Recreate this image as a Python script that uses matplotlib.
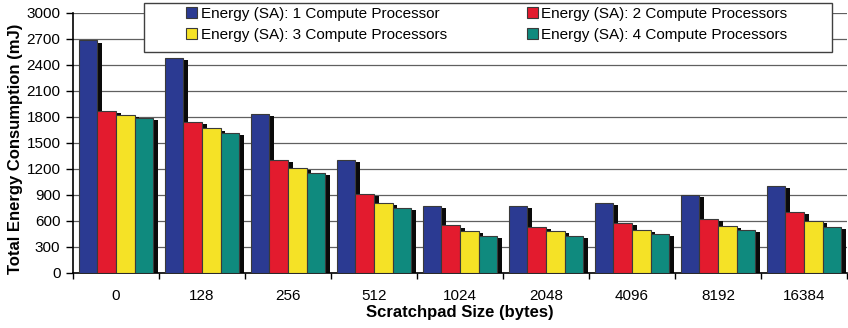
import matplotlib
matplotlib.use("Agg")
import matplotlib.pyplot as plt
import matplotlib.transforms as mtransforms
from matplotlib.patches import Rectangle
import numpy as np

plt.rcParams['font.family'] = ['Liberation Sans', 'DejaVu Sans']

# Scratchpad sizes (bytes) and total energy (mJ) per number of compute processors
sizes = ["0", "128", "256", "512", "1024", "2048", "4096", "8192", "16384"]
energy_1 = [2680, 2475, 1835, 1305, 775, 775, 810, 895, 1005]
energy_2 = [1870, 1735, 1300, 905, 545, 530, 570, 620, 705]
energy_3 = [1820, 1665, 1205, 800, 478, 478, 490, 535, 600]
energy_4 = [1790, 1615, 1147, 750, 423, 423, 450, 490, 532]
series_labels = [
    "Energy (SA): 1 Compute Processor",
    "Energy (SA): 2 Compute Processors",
    "Energy (SA): 3 Compute Processors",
    "Energy (SA): 4 Compute Processors",
]
colors = ["#2b3a92", "#e31b2e", "#f5e226", "#0f8a7e"]
y_ticks = list(range(0, 3001, 300))

fig = plt.figure(figsize=(8.48, 3.28), dpi=100)
ax = fig.add_axes([0.086, 0.1686, 0.913, 0.7925])

x = np.arange(len(sizes))
width = 0.217
offsets = (np.arange(4) - 1.5) * width
shadow_tr = mtransforms.offset_copy(ax.transData, fig=fig, x=3.3, y=-1.5, units='points')

handles = []
for vals, off, col, lab in zip([energy_1, energy_2, energy_3, energy_4], offsets, colors, series_labels):
    ax.bar(x + off, vals, width, color='#0a0a0a', edgecolor='none',
           transform=shadow_tr, zorder=2)
    b = ax.bar(x + off, vals, width, color=col, edgecolor='#3a3a3a',
               linewidth=0.8, zorder=3, label=lab)
    handles.append(b)

ax.set_xlim(-0.5, len(sizes) - 0.5)
ax.set_ylim(0, 3000)
ax.set_yticks(y_ticks)
ax.tick_params(axis='y', labelsize=11, length=5, width=1, pad=4, direction='out')

ax.set_xticks(x)
ax.set_xticklabels(sizes)
ax.set_xticks(np.arange(-0.5, len(sizes)), minor=True)
ax.tick_params(axis='x', which='major', length=0, labelsize=11, pad=12)
ax.tick_params(axis='x', which='minor', length=4, width=1, direction='out')

ax.yaxis.grid(True, color='#606060', linewidth=0.9, zorder=0)
ax.set_axisbelow(True)
for s in ['top', 'right']:
    ax.spines[s].set_visible(False)
ax.spines['left'].set_linewidth(1.2)
ax.spines['bottom'].set_linewidth(1.2)

ax.set_xlabel("Scratchpad Size (bytes)", fontsize=12, fontweight='bold', labelpad=1)
ax.set_ylabel("Total Energy Consumption (mJ)", fontsize=12, fontweight='bold', labelpad=4)
ax.yaxis.set_label_coords(-0.065, 0.478)

# Legend frame and entries
frame = Rectangle((144 / 848, 1 - 52 / 328), (832 - 144) / 848, 49 / 328,
                  transform=fig.transFigure, facecolor='white', edgecolor='#404040',
                  linewidth=1.0, zorder=5)
fig.patches.append(frame)
order = [0, 2, 1, 3]
leg = fig.legend([handles[i] for i in order], [series_labels[i] for i in order],
                 loc='upper left', bbox_to_anchor=(180 / 848, 1 - 1 / 328),
                 ncol=2, frameon=False, fontsize=11, handlelength=0.72,
                 handleheight=0.72, handletextpad=0.25, columnspacing=5.2,
                 labelspacing=0.42, borderaxespad=0)
leg.set_zorder(6)

fig.savefig("out.png", dpi=100)
